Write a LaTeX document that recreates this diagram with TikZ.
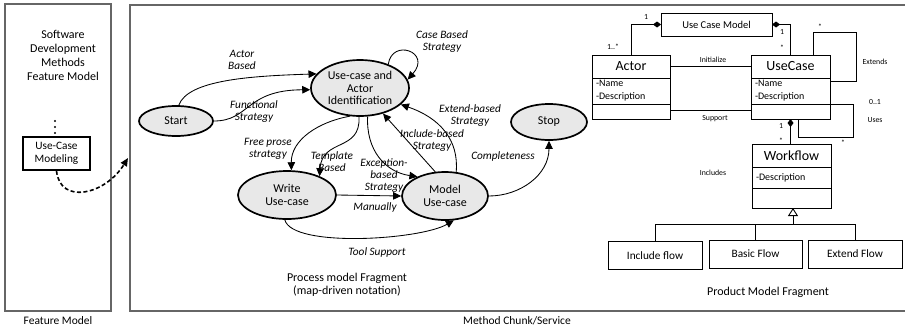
\documentclass[tikz,border=0pt]{standalone}
\usepackage{fontspec}
\setmainfont{Carlito}
\usetikzlibrary{arrows.meta,shapes.geometric}
\begin{document}
\begin{tikzpicture}[x=1pt,y=-1pt,
  state/.style={ellipse,draw,line width=1.7pt,fill=black!9,inner sep=0pt,align=center,font=\fontsize{12}{12.5}\selectfont},
  lbl/.style={align=center,inner sep=0pt,font=\fontsize{11.3}{12}\selectfont\itshape},
  txt/.style={align=center,inner sep=0pt,font=\fontsize{12}{13}\selectfont},
  small/.style={inner sep=0pt,font=\fontsize{7.8}{8}\selectfont},
  conn/.style={line width=0.85pt,-{Triangle[length=8pt,width=7.5pt]}},
  frame/.style={draw=black!60,line width=1.2pt},
  cls/.style={draw,line width=0.9pt,inner sep=0pt,outer sep=0pt},
  ctitle/.style={cls,minimum height=23pt,font=\fontsize{14}{15}\selectfont},
  cattr/.style={cls,align=left,inner xsep=4pt,font=\fontsize{10}{13}\selectfont},
  flow/.style={draw,line width=0.9pt,inner sep=0pt,minimum height=28pt,font=\fontsize{11.3}{12}\selectfont},
  assoc/.style={line width=0.9pt},
  comp/.style={line width=0.9pt,{Diamond[length=8pt,width=6pt]}-}
]
\useasboundingbox (0,0) rectangle (905,330);

% ---------- frames ----------
\draw[frame] (5,4) rectangle (111,311);
\draw[frame] (907,5) -- (130,5) -- (130,311) -- (907,311);
\node[txt,font=\fontsize{11.5}{13}\selectfont] (fmlabel) at (58,321) {Feature Model};
\node[txt,font=\fontsize{11.5}{13}\selectfont] (mclabel) at (517,321) {Method Chunk/Service};

% ---------- feature model ----------
\node[txt,font=\fontsize{12}{14}\selectfont] (sdm) at (63,55) {Software\\Development\\Methods\\Feature Model};
\fill (55,121) circle (1.2pt) (55,127) circle (1.2pt) (55,133) circle (1.2pt);
\node[draw,line width=1.7pt,minimum width=67pt,minimum height=33pt,inner sep=0pt,align=center,font=\fontsize{11.3}{12.5}\selectfont] (ucm) at (56.5,153.5) {Use-Case\\Modeling};
\coordinate (dashend) at (128,158);
\draw[line width=1.6pt,dash pattern=on 4pt off 2.5pt,-{Triangle[length=8pt,width=7pt]}] (ucm.south) .. controls (60,205) and (105,195) .. (dashend);

% ---------- process model ----------
\node[state,minimum width=74pt,minimum height=30pt] (start) at (176,121) {Start};
\node[state,minimum width=98pt,minimum height=56pt] (uca) at (360,88) {Use-case and\\Actor\\Identification};
\node[state,minimum width=98pt,minimum height=48pt] (write) at (287,195) {Write\\Use-case};
\node[state,minimum width=86pt,minimum height=48pt] (model) at (445,196) {Model\\Use-case};
\node[state,minimum width=76pt,minimum height=36pt] (stop) at (549,122) {Stop};

\draw[conn] (start.80) .. controls (188,80) and (250,76) .. (uca.162);
\node[lbl] (l1) at (242,60) {Actor\\Based};
\draw[conn] (start.east) .. controls (250,121) and (245,90) .. (uca.182);
\node[lbl] (l2) at (254,112) {Functional\\Strategy};
\draw[conn] (uca.40) .. controls (392,38) and (432,52) .. (uca.10);
\node[lbl] (l3) at (442,42) {Case Based\\Strategy};
\draw[conn] (uca.250) .. controls (318,122) and (291,140) .. (write.80);
\node[lbl] (l4) at (268,149) {Free prose\\strategy};
\draw[conn] (uca.268) .. controls (361,152) and (322,138) .. (write.30);
\node[lbl] (l5) at (332,162) {Template\\Based};
\draw[conn] (uca.285) .. controls (366,150) and (385,172) .. (model.145);
\node[lbl] (l6) at (384,176) {Exception-\\based\\Strategy};
\draw[conn] (model.112) -- (uca.-48);
\node[lbl] (l7) at (432,141) {Include-based\\Strategy};
\draw[conn] (model.65) .. controls (459,140) and (440,118) .. (uca.-22);
\node[lbl] (l8) at (470,116) {Extend-based\\Strategy};
\draw[conn] (model.east) .. controls (520,196) and (549,175) .. (stop.south);
\node[lbl] (l9) at (503,156) {Completeness};
\draw[conn] (write.east) -- (model.west);
\node[lbl] (l10) at (375,207) {Manually};
\draw[conn] (write.-95) .. controls (292,248) and (420,240) .. (model.-70);
\node[lbl] (l11) at (377,252) {Tool Support};
\node[txt] (pmf) at (347,285) {Process model Fragment\\(map-driven notation)};

% ---------- product model ----------
\node[cls,minimum width=111pt,minimum height=23pt,font=\fontsize{10.5}{11}\selectfont] (ucmod) at (716.5,24.5) {Use Case Model};

\node[ctitle,minimum width=78pt] (actT) at (631,66.5) {Actor};
\node[cattr,minimum width=78pt,minimum height=26pt,text width=70pt] (actA) at (631,91) {-Name\\-Description};
\node[cls,minimum width=78pt,minimum height=15pt] (actM) at (631,111.5) {};

\node[ctitle,minimum width=79pt] (ucT) at (790.5,66.5) {UseCase};
\node[cattr,minimum width=79pt,minimum height=26pt,text width=71pt] (ucA) at (790.5,91) {-Name\\-Description};
\node[cls,minimum width=79pt,minimum height=15pt] (ucM) at (790.5,111.5) {};

\node[ctitle,minimum width=79pt] (wfT) at (791.5,155.5) {Workflow};
\node[cattr,minimum width=79pt,minimum height=21pt,text width=71pt] (wfA) at (791.5,177.5) {-Description};
\node[cls,minimum width=79pt,minimum height=20pt] (wfM) at (791.5,198) {};

\node[flow,minimum width=94pt] (incl) at (655,255.5) {Include flow};
\node[flow,minimum width=93pt] (basic) at (755.5,254) {Basic Flow};
\node[flow,minimum width=94pt] (ext) at (855,254) {Extend Flow};

% associations
\draw[comp] (ucmod.west) -| (actT.north);
\node[small] (m1) at (646,17) {1};
\node[small] (m2) at (613,47) {1..*};
\draw[comp] (ucmod.east) -| (ucT.north);
\node[small] (m3) at (782,32) {1};
\node[small] (m4) at (782,48) {*};

\draw[assoc] (actT.east) -- (ucT.west);
\node[small] (ini) at (713,60) {Initialize};
\draw[assoc] ([yshift=1.5pt]actM.east) -- ([yshift=1.5pt]ucM.west);
\node[small] (sup) at (715,119) {Support};

\draw[assoc] ([xshift=22.5pt]ucT.north) |- (856,32) |- (ucA.east |- 0,81);
\node[small] (m5) at (820,27) {*};
\node[small] (extl) at (875,62) {Extends};

\draw[assoc] (ucA.south east) -| (853,137) -| ([xshift=7.5pt]ucM.south);
\node[small] (m6) at (875,102) {0..1};
\node[small] (usesl) at (875,120) {Uses};
\node[small] (m7) at (843,143) {*};

\draw[comp] (ucM.south) -- (wfT.north -| ucM.south);
\node[small] (m8) at (781,126) {1};
\node[small] (m9) at (781,141) {*};
\node[small] (incll) at (713,173) {Includes};

% generalization
\draw[assoc] (incl.north) |- (ext.north |- 0,224) -- (ext.north);
\draw[assoc] (basic.north) -- (basic.north |- 0,224);
\draw[assoc,-{Triangle[open,length=8pt,width=10pt,fill=white]}] ([xshift=1.5pt]wfM.south |- 0,224) -- ([xshift=1.5pt]wfM.south);

\node[txt] (pdf) at (768,292) {Product Model Fragment};
\end{tikzpicture}
\end{document}
